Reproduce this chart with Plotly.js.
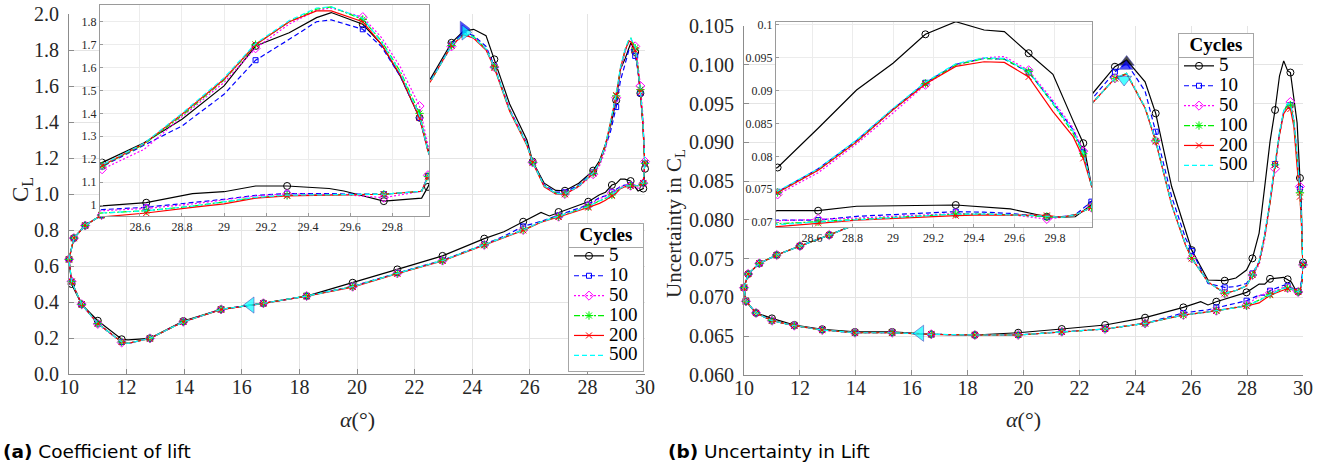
<!DOCTYPE html>
<html><head><meta charset="utf-8">
<script src="https://cdn.plot.ly/plotly-3.0.1.min.js"></script>
<style>html,body{margin:0;padding:0;background:#fff;} #chart{width:1321px;height:465px;}</style>
</head><body><div id="chart"></div>
<script>
// ---------------- DATA ----------------
const SERIES = ['5', '10', '50', '100', '200', '500'];

// (a) Coefficient of lift: one pitching loop (upstroke 10->30, downstroke 30->10)
const CL_ALPHA = [10.00,10.17,10.56,11.13,12.93,15.46,18.44,21.56,22.55,23.28,23.70,24.05,24.48,24.77,25.30,25.90,26.10,26.50,26.90,27.22,27.70,28.20,28.42,28.62,28.80,29.00,29.15,29.31,29.44,29.51,29.66,29.75,29.84,29.93,29.97,30.00,
  29.97,29.94,29.76,29.57,29.50,29.30,29.15,29.00,28.85,28.63,28.42,28.03,27.00,26.68,26.39,25.77,25.10,24.42,22.97,21.40,19.85,18.25,16.75,15.28,13.97,12.81,12.05,11.83,11.00,10.44,10.09,10.00];
const CL_5 = [0.637,0.755,0.825,0.883,0.99,1.17,1.36,1.53,1.64,1.84,1.905,1.915,1.88,1.748,1.50,1.30,1.18,1.06,1.02,1.018,1.06,1.13,1.185,1.272,1.374,1.52,1.694,1.752,1.818,1.84,1.789,1.70,1.56,1.381,1.236,1.14,
  1.079,1.03,1.017,1.061,1.072,1.083,1.083,1.058,1.05,1.01,0.996,0.957,0.90,0.878,0.898,0.846,0.79,0.752,0.656,0.581,0.507,0.433,0.393,0.359,0.294,0.198,0.19,0.193,0.296,0.387,0.50,0.637];
const CL_10 = [0.637,0.755,0.825,0.883,0.99,1.17,1.36,1.53,1.63,1.83,1.90,1.88,1.82,1.71,1.47,1.28,1.176,1.05,1.01,1.01,1.05,1.12,1.168,1.262,1.345,1.483,1.632,1.723,1.80,1.808,1.767,1.69,1.56,1.38,1.236,1.17,
  1.127,1.06,1.047,1.048,1.05,1.05,1.042,1.025,1.01,0.99,0.98,0.94,0.88,0.862,0.848,0.82,0.765,0.72,0.632,0.561,0.487,0.433,0.393,0.359,0.29,0.198,0.17,0.178,0.28,0.387,0.513,0.637];
const CL_50 = [0.637,0.755,0.825,0.883,0.99,1.17,1.36,1.53,1.624,1.82,1.885,1.87,1.805,1.705,1.47,1.275,1.175,1.045,1.0,1.0,1.04,1.11,1.156,1.243,1.385,1.535,1.684,1.79,1.85,1.86,1.82,1.73,1.60,1.432,1.26,1.18,
  1.13,1.06,1.032,1.045,1.046,1.048,1.04,1.022,1.005,0.985,0.975,0.935,0.874,0.86,0.845,0.80,0.76,0.717,0.63,0.559,0.485,0.433,0.393,0.359,0.29,0.198,0.17,0.175,0.278,0.387,0.515,0.637];
const CL_100 = [0.637,0.755,0.825,0.883,0.99,1.17,1.36,1.53,1.624,1.825,1.89,1.875,1.805,1.705,1.465,1.275,1.176,1.045,1.005,1.0,1.045,1.115,1.17,1.265,1.39,1.545,1.70,1.80,1.855,1.865,1.81,1.715,1.58,1.40,1.236,1.17,
  1.125,1.06,1.047,1.045,1.046,1.042,1.032,1.012,0.995,0.975,0.962,0.93,0.874,0.86,0.845,0.80,0.76,0.717,0.63,0.559,0.485,0.433,0.393,0.359,0.29,0.198,0.17,0.178,0.28,0.387,0.513,0.637];
const CL_200 = [0.637,0.755,0.825,0.883,0.99,1.17,1.36,1.53,1.624,1.825,1.885,1.865,1.80,1.70,1.46,1.27,1.175,1.04,1.0,0.998,1.043,1.115,1.172,1.268,1.396,1.549,1.70,1.80,1.847,1.847,1.80,1.70,1.565,1.38,1.236,1.17,
  1.125,1.06,1.047,1.045,1.045,1.04,1.03,1.005,0.99,0.965,0.948,0.925,0.872,0.858,0.843,0.798,0.758,0.715,0.628,0.557,0.483,0.432,0.392,0.358,0.29,0.197,0.17,0.178,0.28,0.387,0.513,0.637];
const CL_500 = [0.637,0.755,0.825,0.883,0.99,1.17,1.36,1.53,1.624,1.825,1.89,1.87,1.805,1.705,1.465,1.275,1.176,1.045,1.003,1.0,1.045,1.117,1.175,1.27,1.40,1.555,1.705,1.805,1.86,1.865,1.815,1.71,1.575,1.39,1.236,1.17,
  1.125,1.06,1.047,1.045,1.046,1.043,1.033,1.013,0.995,0.975,0.962,0.93,0.874,0.86,0.845,0.80,0.76,0.717,0.63,0.559,0.485,0.433,0.393,0.359,0.29,0.198,0.17,0.178,0.28,0.387,0.513,0.637];
const CL_MAIN_MARKS = [1,2,3,9,13,16,19,21,25,30,32,35,37,40,44,47,48,51,53,54,55,56,57,58,59,60,61,63,64,65,66,67];
const CL_INSET_MARKS = [22,26,30,33,36,38,41,45];
const CL_ARROW_ALPHA = [23.70, 23.76, 16.30];
const CL_ARROW_VALUE = [1.918, 1.897, 0.383];

// (b) Uncertainty in lift
const U_ALPHA = [10.00,10.15,10.55,11.17,12.00,13.05,15.46,18.44,21.56,22.45,23.27,23.69,24.35,24.73,25.30,25.80,26.02,26.60,27.20,27.60,27.98,28.19,28.43,28.63,28.82,29.00,29.16,29.31,29.45,29.55,29.67,29.79,29.89,29.94,29.98,30.00,
  29.98,29.90,29.83,29.76,29.58,29.45,29.31,28.82,28.63,28.43,27.98,26.90,26.60,26.34,25.72,24.35,22.92,21.37,19.81,18.26,16.70,15.30,13.97,12.80,11.80,11.00,10.43,10.07,10.00];
const U_5 = [0.07126,0.07302,0.0744,0.07547,0.07663,0.07805,0.0816,0.0858,0.0928,0.0962,0.09975,0.1006,0.0978,0.09374,0.0843,0.0787,0.0761,0.07225,0.07216,0.0725,0.07354,0.07504,0.0783,0.08427,0.0901,0.09417,0.09858,0.1005,0.09924,0.0990,0.0957,0.0925,0.0854,0.0820,0.0756,0.0745,
  0.0726,0.0708,0.07074,0.0708,0.0720,0.07234,0.07259,0.0724,0.07172,0.07172,0.07066,0.06945,0.06903,0.06945,0.06872,0.06739,0.06645,0.06593,0.06545,0.06516,0.06525,0.06555,0.06555,0.0659,0.06645,0.0673,0.0680,0.0695,0.07126];
const U_10 = [0.07126,0.07302,0.0744,0.07547,0.07663,0.07805,0.0815,0.0855,0.0922,0.0956,0.0991,0.1002,0.0966,0.09137,0.0830,0.0776,0.0760,0.0718,0.0713,0.0714,0.0718,0.0731,0.0746,0.0781,0.0824,0.0872,0.0912,0.0940,0.0949,0.0948,0.0928,0.0882,0.0840,0.0806,0.0756,0.0742,
  0.0731,0.0711,0.0708,0.0708,0.0713,0.0715,0.07157,0.07087,0.0703,0.0703,0.06958,0.06872,0.0684,0.0683,0.0680,0.06666,0.06593,0.06558,0.06516,0.06516,0.06525,0.06545,0.06545,0.0658,0.06636,0.0670,0.0680,0.0695,0.07126];
const U_50 = [0.07126,0.07302,0.0744,0.07547,0.07663,0.07805,0.0815,0.0852,0.0915,0.0950,0.09825,0.0989,0.0945,0.0902,0.0820,0.0768,0.07504,0.0720,0.07053,0.0709,0.0715,0.07289,0.0742,0.0775,0.0819,0.0866,0.0909,0.0939,0.0950,0.0952,0.0931,0.0885,0.0843,0.0808,0.0756,0.0742,
  0.0722,0.0711,0.0707,0.07046,0.0711,0.0712,0.0713,0.0706,0.07046,0.0702,0.0690,0.06829,0.0681,0.0680,0.06774,0.06666,0.06593,0.06558,0.06516,0.06516,0.06525,0.06545,0.06545,0.0658,0.06636,0.0670,0.0680,0.0695,0.07126];
const U_100 = [0.07126,0.07302,0.0744,0.07547,0.07663,0.07805,0.0815,0.0852,0.0915,0.0950,0.09825,0.0989,0.0945,0.0902,0.0820,0.0768,0.07504,0.0720,0.07053,0.0709,0.0715,0.07289,0.0745,0.0779,0.0822,0.0871,0.0911,0.0939,0.0949,0.0948,0.0929,0.0880,0.0835,0.0804,0.0756,0.0742,
  0.0722,0.0711,0.0707,0.0708,0.0711,0.0712,0.0712,0.0704,0.07005,0.06965,0.06894,0.06829,0.0681,0.0680,0.06774,0.06666,0.06593,0.06558,0.06516,0.06516,0.06525,0.06545,0.06545,0.0658,0.06636,0.0670,0.0680,0.0695,0.07126];
const U_200 = [0.07126,0.07302,0.0744,0.07547,0.07663,0.07805,0.0815,0.0852,0.0915,0.0950,0.09825,0.0988,0.0944,0.0901,0.0819,0.0767,0.07504,0.0720,0.07053,0.0709,0.0715,0.07289,0.0745,0.0779,0.0822,0.0871,0.0910,0.0937,0.0944,0.0943,0.0921,0.0868,0.0830,0.0797,0.0756,0.0742,
  0.0722,0.0711,0.0707,0.0710,0.0711,0.0711,0.07096,0.0703,0.0698,0.0693,0.0689,0.06829,0.0681,0.0680,0.06774,0.06666,0.06593,0.06558,0.06516,0.06516,0.06525,0.06545,0.06545,0.0658,0.06636,0.0670,0.0680,0.0695,0.07126];
const U_500 = [0.07126,0.07302,0.0744,0.07547,0.07663,0.07805,0.0815,0.0852,0.0915,0.0950,0.09825,0.0989,0.0945,0.0902,0.0820,0.0768,0.07504,0.0720,0.07053,0.0709,0.0715,0.07289,0.0747,0.0781,0.0825,0.0873,0.0913,0.0941,0.0950,0.0949,0.0929,0.0881,0.0838,0.0805,0.0756,0.0742,
  0.0722,0.0711,0.0707,0.0709,0.0711,0.0712,0.0712,0.0704,0.0700,0.0696,0.0689,0.06829,0.0681,0.0680,0.06774,0.06666,0.06593,0.06558,0.06516,0.06516,0.06525,0.06545,0.06545,0.0658,0.06636,0.0670,0.0680,0.0695,0.07126];
const U_MAIN_MARKS = [1,2,3,4,5,10,13,16,18,21,25,29,32,35,38,41,43,46,47,50,51,52,53,54,55,56,57,58,59,60,61,62,63,64];
const U_INSET_MARKS = [22,26,30,33,36,39,42,44];
const U_ARROW_ALPHA = [23.69, 23.67, 23.60, 16.30];
const U_ARROW_VALUE = [0.10035, 0.0998, 0.0981, 0.06538];

// ---------------- STYLE ----------------
const STYLE = {
  '5':   {color:'#000000', dash:'solid',           symbol:'circle-open',   size:7},
  '10':  {color:'#0000ff', dash:'5px,3px',         symbol:'square-open',   size:5},
  '50':  {color:'#ff00ff', dash:'2px,2px',         symbol:'diamond-open',  size:7},
  '100': {color:'#00ee00', dash:'6px,2px,2px,2px', symbol:'asterisk-open', size:7},
  '200': {color:'#ff0000', dash:'solid',           symbol:'x-thin-open',   size:6},
  '500': {color:'#00ffff', dash:'5px,3px',         symbol:null,            size:0}
};
const CL_DATA = {'5':CL_5,'10':CL_10,'50':CL_50,'100':CL_100,'200':CL_200,'500':CL_500};
const U_DATA  = {'5':U_5,'10':U_10,'50':U_50,'100':U_100,'200':U_200,'500':U_500};

const traces = [];
function addChart(alpha, data, mainMarks, insetMarks, xa, ya, xi, yi) {
  SERIES.forEach(s => {
    const st = STYLE[s], v = data[s];
    [[xa, ya, mainMarks], [xi, yi, insetMarks]].forEach(([xx, yy, marks]) => {
      traces.push({x: alpha, y: v, xaxis: xx, yaxis: yy, mode: 'lines', showlegend: false, hoverinfo: 'skip',
        line: {color: st.color, width: 1.2, dash: st.dash}});
      if (st.symbol) {
        traces.push({x: marks.map(i => alpha[i]), y: marks.map(i => v[i]), xaxis: xx, yaxis: yy,
          mode: 'markers', showlegend: false, hoverinfo: 'skip', cliponaxis: xx === xa ? false : true,
          marker: {symbol: st.symbol, size: st.size, color: st.color, line: {color: st.color, width: 1}}});
      }
    });
  });
}
addChart(CL_ALPHA, CL_DATA, CL_MAIN_MARKS, CL_INSET_MARKS, 'x', 'y', 'x3', 'y3');
addChart(U_ALPHA, U_DATA, U_MAIN_MARKS, U_INSET_MARKS, 'x2', 'y2', 'x4', 'y4');

// direction arrows
traces.push({x: CL_ARROW_ALPHA, y: CL_ARROW_VALUE, xaxis: 'x', yaxis: 'y', mode: 'markers', showlegend: false, hoverinfo: 'skip', cliponaxis: false,
  marker: {symbol: ['triangle-right', 'triangle-right', 'triangle-left'], size: [13, 13, 14],
    color: ['#0000ff', '#00ffff', '#00ffff'], line: {color: '#0000aa', width: 0.6}}});
traces.push({x: U_ARROW_ALPHA, y: U_ARROW_VALUE, xaxis: 'x2', yaxis: 'y2', mode: 'markers', showlegend: false, hoverinfo: 'skip', cliponaxis: false,
  marker: {symbol: ['triangle-up', 'triangle-up', 'triangle-down', 'triangle-left'], size: [13, 12, 13, 14],
    color: ['#000000', '#0000ff', '#00ffff', '#00ffff'], line: {color: '#0000aa', width: 0.6}}});

// legend entries
[['x', 'y', 'legend'], ['x2', 'y2', 'legend2']].forEach(([xx, yy, lg]) => {
  SERIES.forEach(s => {
    const st = STYLE[s];
    const t = {x: [null], y: [null], xaxis: xx, yaxis: yy, legend: lg, showlegend: true,
      name: '<span style="font-size:19px">' + s + '</span>',
      mode: st.symbol ? 'lines+markers' : 'lines',
      line: {color: st.color, width: 1.2, dash: st.dash}};
    if (st.symbol) t.marker = {symbol: st.symbol, size: st.size, color: st.color, line: {color: st.color, width: 1}};
    traces.push(t);
  });
});

// ---------------- LAYOUT ----------------
const W = 1321, H = 465;
const px = v => v / W, py = v => 1 - v / H;
const tickFontMain = {family: 'Liberation Serif, serif', size: 20, color: '#262626'};
const tickFontInset = {family: 'Liberation Serif, serif', size: 12, color: '#262626'};
const GRID = '#e4e4e4', AXL = '#8c8c8c';
function mainAx(dom, range, extra) {
  return Object.assign({domain: dom, range: range, showgrid: true, gridcolor: GRID, gridwidth: 1, zeroline: false,
    showline: true, linecolor: AXL, linewidth: 1, ticks: 'inside', ticklen: 5, tickcolor: AXL,
    tickfont: tickFontMain, fixedrange: true}, extra);
}
function insetAx(dom, range, extra) {
  return Object.assign({domain: dom, range: range, showgrid: true, gridcolor: '#ececec', zeroline: false,
    showline: true, mirror: true, linecolor: '#9a9a9a', linewidth: 1, ticks: 'inside', ticklen: 3, tickcolor: '#9a9a9a',
    tickfont: tickFontInset, fixedrange: true}, extra);
}
const legendBase = {bgcolor: 'rgba(0,0,0,0)', bordercolor: '#a6a6a6', borderwidth: 1, xanchor: 'left', yanchor: 'top',
  font: {family: 'Liberation Serif, serif', size: 13, color: '#000'}, itemwidth: 30, tracegroupgap: 0,
  title: {text: '<span style="font-size:19px"><b>Cycles</b></span>', side: 'top center',
    font: {family: 'Liberation Serif, serif', size: 13, color: '#000'}}};
const LEG_POS = {legend: [568, 223], legend2: [1178, 33]};

function legendShapes(w, h) {
  const out = [];
  Object.keys(LEG_POS).forEach(k => {
    const [lx, ly] = LEG_POS[k];
    out.push({type: 'rect', xref: 'paper', yref: 'paper', layer: 'above', x0: px(lx + 0.5), x1: px(lx + w - 0.5),
      y0: py(ly + 0.5), y1: py(ly + h - 0.5), fillcolor: '#ffffff', line: {width: 0}});
    out.push({type: 'line', xref: 'paper', yref: 'paper', layer: 'above', x0: px(lx), x1: px(lx + w),
      y0: py(ly + 24.5), y1: py(ly + 24.5), line: {color: '#a6a6a6', width: 1}});
  });
  return out;
}

const layout = {
  width: W, height: H, margin: {l: 0, r: 0, t: 0, b: 0},
  paper_bgcolor: '#ffffff', plot_bgcolor: '#ffffff',
  showlegend: true,
  xaxis:  mainAx([px(69), px(645)], [10, 30], {anchor: 'y', dtick: 2, tick0: 10, ticklabelstandoff: -5}),
  yaxis:  mainAx([py(374), py(14)], [0, 2.0], {anchor: 'x', dtick: 0.2, tickformat: '.1f', ticklabelstandoff: 5}),
  xaxis2: mainAx([px(744), px(1303)], [10, 30], {anchor: 'y2', dtick: 2, tick0: 10, ticklabelstandoff: -5}),
  yaxis2: mainAx([py(375), py(26)], [0.060, 0.105], {anchor: 'x2', dtick: 0.005, tick0: 0.06, tickformat: '.3f', ticklabelstandoff: 5}),
  xaxis3: insetAx([px(100), px(429)], [28.41, 29.975], {anchor: 'y3', dtick: 0.2, tick0: 28.6}),
  yaxis3: insetAx([py(216), py(5)], [0.952, 1.873], {anchor: 'x3', dtick: 0.1, tick0: 1}),
  xaxis4: insetAx([px(776), px(1092)], [28.422, 29.983], {anchor: 'y4', dtick: 0.2, tick0: 28.6}),
  yaxis4: insetAx([py(227), py(22)], [0.069239, 0.100455], {anchor: 'x4', dtick: 0.005, tick0: 0.07}),
  legend:  Object.assign({}, legendBase, {x: px(LEG_POS.legend[0]), y: py(LEG_POS.legend[1])}),
  legend2: Object.assign({}, legendBase, {x: px(LEG_POS.legend2[0]), y: py(LEG_POS.legend2[1])}),
  shapes: legendShapes(77, 144),
  annotations: [
    {text: 'C<sub>L</sub>', xref: 'paper', yref: 'paper', x: px(22), y: py(190), showarrow: false, textangle: -90,
      xanchor: 'center', yanchor: 'middle', font: {family: 'Liberation Serif, serif', size: 23, color: '#262626'}},
    {text: 'Uncertainty in C<sub>L</sub>', xref: 'paper', yref: 'paper', x: px(675), y: py(224), showarrow: false, textangle: -90,
      xanchor: 'center', yanchor: 'middle', font: {family: 'Liberation Serif, serif', size: 21, color: '#262626'}},
    {text: '<i>α</i>(°)', xref: 'paper', yref: 'paper', x: px(357), y: py(419), showarrow: false,
      xanchor: 'center', yanchor: 'middle', font: {family: 'Liberation Serif, serif', size: 22, color: '#262626'}},
    {text: '<i>α</i>(°)', xref: 'paper', yref: 'paper', x: px(1023), y: py(419), showarrow: false,
      xanchor: 'center', yanchor: 'middle', font: {family: 'Liberation Serif, serif', size: 22, color: '#262626'}},
    {text: '<b>(a)</b> Coefficient of lift', xref: 'paper', yref: 'paper', x: px(1), y: py(451), showarrow: false,
      xanchor: 'left', yanchor: 'middle', font: {family: 'DejaVu Sans, sans-serif', size: 18.5, color: '#000'}},
    {text: '<b>(b)</b> Uncertainty in Lift', xref: 'paper', yref: 'paper', x: px(666), y: py(451), showarrow: false,
      xanchor: 'left', yanchor: 'middle', font: {family: 'DejaVu Sans, sans-serif', size: 18.5, color: '#000'}}
  ]
};

Plotly.newPlot('chart', traces, layout, {staticPlot: true, displayModeBar: false}).then(gd => {
  const L = gd._fullLayout.legend || {};
  const w = L._width || L._effWidth, h = L._height || L._effHeight;
  if (w && h) return Plotly.relayout(gd, {shapes: legendShapes(w, h)});
});
</script>
</body></html>
